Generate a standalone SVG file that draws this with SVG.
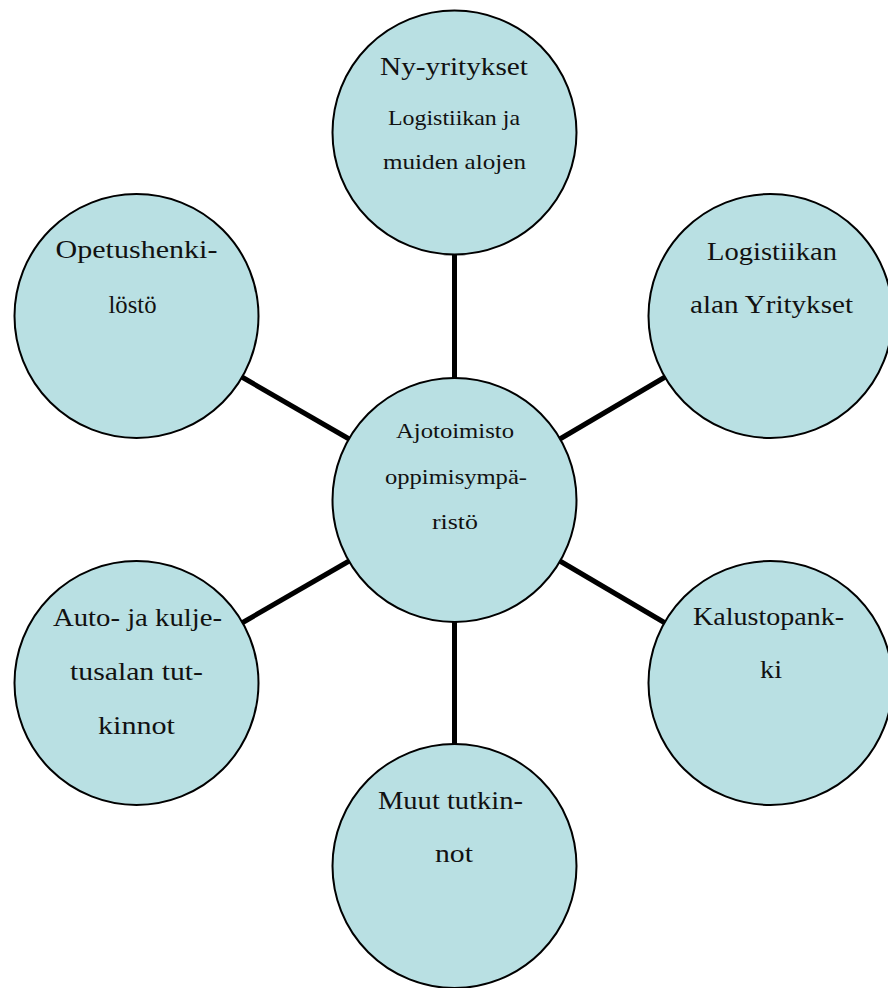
<svg xmlns="http://www.w3.org/2000/svg" width="888" height="988" viewBox="0 0 888 988">
<style>
.node{fill:#B9E0E3;stroke:#000;stroke-width:2}
.edge{stroke:#000;stroke-width:5;fill:none}
.lbl{font-family:"Liberation Serif","Times New Roman",serif;fill:#111;text-anchor:middle;font-size:26px}
.sm{font-size:22px}
</style>
<rect width="888" height="988" fill="#fff"/>
<g id="connectors">
<line class="edge" x1="454.5" y1="252" x2="454.5" y2="380"/>
<line class="edge" x1="454.5" y1="620" x2="454.5" y2="746"/>
<line class="edge" x1="241" y1="376.5" x2="350" y2="439.5"/>
<line class="edge" x1="666" y1="376.5" x2="559" y2="439.5"/>
<line class="edge" x1="241" y1="623.5" x2="350" y2="560.5"/>
<line class="edge" x1="666" y1="623.5" x2="559" y2="560.5"/>
</g>
<g id="n-top">
<circle class="node" cx="454.5" cy="132.5" r="122"/>
<text class="lbl" x="454" y="75" textLength="148" lengthAdjust="spacingAndGlyphs">Ny-yritykset</text>
<text class="lbl sm" x="454" y="125" textLength="132" lengthAdjust="spacingAndGlyphs">Logistiikan ja</text>
<text class="lbl sm" x="454.5" y="169" textLength="143" lengthAdjust="spacingAndGlyphs">muiden alojen</text>
</g>
<g id="n-center">
<circle class="node" cx="454.5" cy="500" r="122"/>
<text class="lbl sm" x="455" y="438" textLength="118" lengthAdjust="spacingAndGlyphs">Ajotoimisto</text>
<text class="lbl sm" x="456" y="484" textLength="142" lengthAdjust="spacingAndGlyphs">oppimisympä-</text>
<text class="lbl sm" x="455" y="529" textLength="46" lengthAdjust="spacingAndGlyphs">ristö</text>
</g>
<g id="n-topleft">
<circle class="node" cx="136.5" cy="316" r="122"/>
<text class="lbl" x="136.5" y="258" textLength="162" lengthAdjust="spacingAndGlyphs">Opetushenki-</text>
<text class="lbl" x="132.5" y="313" textLength="48" lengthAdjust="spacingAndGlyphs">löstö</text>
</g>
<g id="n-topright">
<circle class="node" cx="770.5" cy="316" r="122"/>
<text class="lbl" x="772" y="260" textLength="130" lengthAdjust="spacingAndGlyphs">Logistiikan</text>
<text class="lbl" x="771.5" y="313" textLength="163" lengthAdjust="spacingAndGlyphs">alan Yritykset</text>
</g>
<g id="n-bottomright">
<circle class="node" cx="770.5" cy="683" r="122"/>
<text class="lbl" x="768.5" y="625" textLength="151" lengthAdjust="spacingAndGlyphs">Kalustopank-</text>
<text class="lbl" x="771" y="678" textLength="22" lengthAdjust="spacingAndGlyphs">ki</text>
</g>
<g id="n-bottom">
<circle class="node" cx="454.5" cy="866" r="122"/>
<text class="lbl" x="450.5" y="809" textLength="145" lengthAdjust="spacingAndGlyphs">Muut tutkin-</text>
<text class="lbl" x="454" y="862" textLength="38" lengthAdjust="spacingAndGlyphs">not</text>
</g>
<g id="n-bottomleft">
<circle class="node" cx="136.5" cy="683" r="122"/>
<text class="lbl" x="137.5" y="626" textLength="169" lengthAdjust="spacingAndGlyphs">Auto- ja kulje-</text>
<text class="lbl" x="136.5" y="680" textLength="133" lengthAdjust="spacingAndGlyphs">tusalan tut-</text>
<text class="lbl" x="136.5" y="734" textLength="77" lengthAdjust="spacingAndGlyphs">kinnot</text>
</g>
</svg>
